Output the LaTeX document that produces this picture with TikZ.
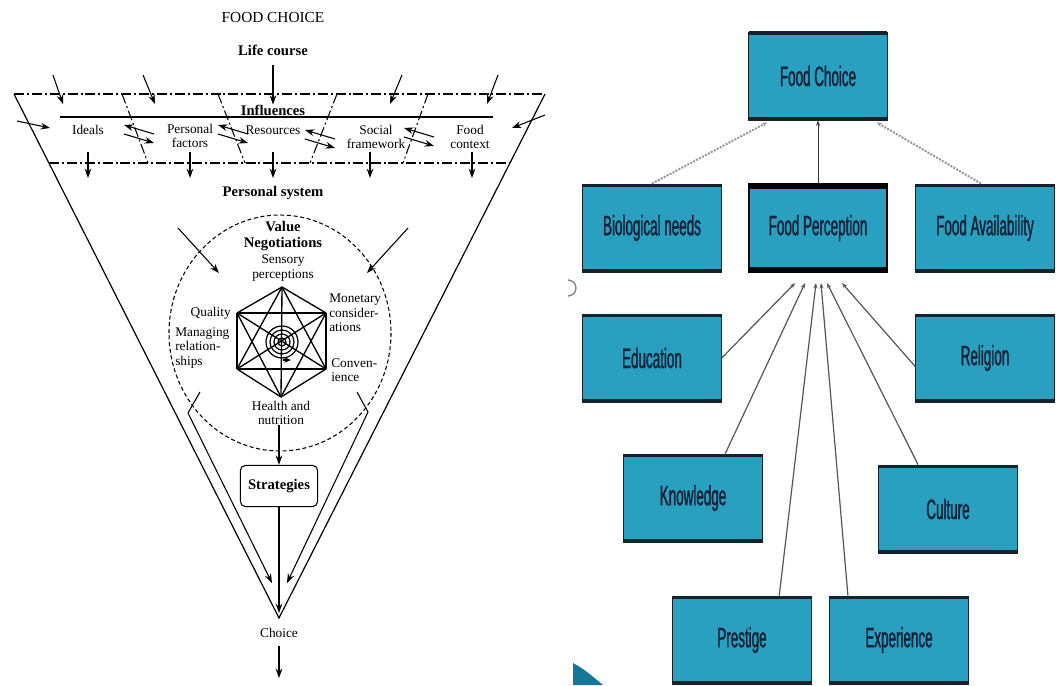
\documentclass[tikz,border=0pt]{standalone}
\usepackage{fontspec}
\setmainfont{Liberation Serif}
\newfontfamily\slidefont[FakeStretch=0.48, FakeBold=1.2]{Liberation Sans}
\usetikzlibrary{arrows.meta, calc, positioning}
\definecolor{slideteal}{RGB}{42,160,192}
\definecolor{boxedge}{RGB}{22,34,44}
\definecolor{slidetext}{RGB}{20,34,56}
\definecolor{linkgray}{RGB}{85,85,85}
\definecolor{dotgray}{RGB}{150,150,150}
\definecolor{wedgeteal}{RGB}{20,120,150}

\tikzset{
  dashdot/.style={line width=0.8pt, dash pattern=on 7.5pt off 2.2pt on 1.5pt off 2.2pt},
  into/.style={-{Stealth[length=7pt,width=5pt]}, line width=0.8pt},
  factortext/.style={font=\fontsize{10}{10.8}\selectfont, align=center, inner sep=0pt},
  heading/.style={font=\fontsize{11}{12}\selectfont\bfseries, align=center, inner sep=0pt},
  titletext/.style={font=\fontsize{11.5}{13}\selectfont, inner sep=0pt},
  slidebox/.style={rectangle, fill=slideteal, draw=boxedge, line width=0.6pt,
    minimum width=104pt, minimum height=66pt, inner sep=0pt,
    font=\slidefont\fontsize{21}{24}\selectfont, text=slidetext,
    path picture={\draw[boxedge, line width=5pt]
      (path picture bounding box.north west) -- (path picture bounding box.north east)
      (path picture bounding box.south west) -- (path picture bounding box.south east);}},
  keybox/.style={slidebox, draw=black, line width=1.6pt,
    path picture={\draw[black, line width=8pt]
      (path picture bounding box.north west) -- (path picture bounding box.north east)
      (path picture bounding box.south west) -- (path picture bounding box.south east);}},
  feed/.style={-{Stealth[length=4pt,width=3pt]}, linkgray, line width=0.9pt},
  ration/.style={-{Stealth[length=4pt,width=3pt]}, dotgray, line width=1.5pt, dash pattern=on 1.5pt off 1pt},
}

\begin{document}
\begin{tikzpicture}[x=0.75pt, y=-0.75pt]
  \fill[white] (0,0) rectangle (1056,685);
  \useasboundingbox (0,0) rectangle (1056,685);

  % Funnel
  \draw[line width=0.9pt] (14,94) -- (279,618) -- (545,94);
  \draw[dashdot] (14,94) -- (545,94);
  \draw[dashdot] (49,163) -- (510,163);
  \draw[line width=0.9pt] (60,117) -- (493,117);
  \draw[dashdot] (122,94) -- (148,163);
  \draw[dashdot] (218,94) -- (245,163);
  \draw[dashdot] (337,94) -- (310,163);
  \draw[dashdot] (428,94) -- (403,163);

  % Influences
  \node[titletext] (title) at (273,17) {FOOD CHOICE};
  \node[heading] (life) at (273,50) {Life course};
  \node[heading] (infl) at (273,110) {Influences};
  \node[factortext] (ideals) at (88,130) {Ideals};
  \node[factortext] (pers) at (190,136) {Personal\\factors};
  \node[factortext] (res) at (273,130) {Resources};
  \node[factortext] (social) at (376,137) {Social\\framework};
  \node[factortext] (context) at (470,137) {Food\\context};
  \node[heading] (psys) at (273,193) {Personal system};

  \draw[into, shorten <=7pt] (life) -- (infl);
  \foreach \a/\b in {53/63, 143/155, 402/390, 498/487}
    \draw[into] (\a,75) -- (\b,104);
  \draw[into] (17,121) -- (50,128);
  \draw[into] (545,115) -- (512,128);
  \foreach \x in {88,190,273,370,472}
    \draw[into] (\x,152) -- (\x,178);
  \foreach \cx/\cy in {139/135, 233/135, 320/140, 419/138} {
    \draw[into] (\cx+15,\cy-1) -- (\cx-15,\cy-10);
    \draw[into] (\cx-15,\cy-1) -- (\cx+15,\cy+8);
  }

  % Value negotiations
  \draw[line width=0.8pt, dash pattern=on 3pt off 2pt] (280,333) ellipse [x radius=111, y radius=118];
  \node[heading] (value) at (283,236) {Value\\Negotiations};
  \node[factortext] (sensory) at (283,268) {Sensory\\perceptions};
  \node[factortext, anchor=east] (quality) at (231,313) {Quality};
  \node[factortext, anchor=west, align=left] (managing) at (175,348) {Managing\\relation-\\ships};
  \node[factortext, anchor=west, align=left] (monetary) at (329,313) {Monetary\\consider-\\ations};
  \node[factortext, anchor=west, align=left] (conven) at (331,370) {Conven-\\ience};
  \node[factortext] (health) at (281,413) {Health and\\nutrition};

  \coordinate (vT) at (282,287);
  \coordinate (vUR) at (326,313);
  \coordinate (vLR) at (326,369);
  \coordinate (vB) at (281,397);
  \coordinate (vLL) at (237,369);
  \coordinate (vUL) at (237,313);
  \foreach \p [count=\i] in {vT,vUR,vLR,vB,vLL,vUL} {
    \foreach \q [count=\j] in {vT,vUR,vLR,vB,vLL,vUL} {
      \ifnum\i<\j \draw[line width=1pt] (\p) -- (\q); \fi
    }
  }
  \foreach \r in {4,8,12,16}
    \draw[line width=0.9pt] (282,342) circle[radius=\r];
  \draw[-{Stealth[length=5pt,width=4pt]}, line width=0.8pt] (283,360) -- (291,360);

  \draw[into] (178,228) -- (219,273);
  \draw[into] (408,228) -- (367,273);
  \draw[into] (200,392) -- (188,413) -- (272,583);
  \draw[into] (357,392) -- (368,412) -- (287,583);

  % Strategies and choice
  \node[heading, draw, line width=0.8pt, rounded corners=4pt, minimum width=58pt, minimum height=31pt] (strat) at (279,486) {Strategies};
  \coordinate (apex) at (279,613);
  \node[factortext] (choice) at (279,633) {Choice};
  \coordinate (out) at (279,678);
  \draw[into] (health.south -| strat.north) -- (strat.north);
  \draw[into, line width=1.3pt] (strat) -- (apex);
  \draw[into, shorten <=6pt] (choice) -- (out);

  % Slide
  \node[slidebox] (fc) at (818,76) {Food Choice};
  \node[slidebox] (bio) at (652,228) {Biological needs};
  \node[keybox] (perc) at (818,228) {Food Perception};
  \node[slidebox] (avail) at (985,228) {Food Availability};
  \node[slidebox] (edu) at (652,358) {Education};
  \node[slidebox] (rel) at (985,358) {Religion};
  \node[slidebox] (know) at (693,498) {Knowledge};
  \node[slidebox] (cult) at (948,509) {Culture};
  \node[slidebox] (prest) at (742,640) {Prestige};
  \node[slidebox] (exper) at (899,640) {Experience};

  \draw[feed, linkgray!60!black, line width=0.7pt] (perc.north) -- (fc.south);
  \draw[ration] (bio.north) -- ($(fc.south west)+(19,2)$);
  \draw[ration] ($(avail.north)+(-4,0)$) -- ($(fc.south east)+(-11,2)$);
  \draw[feed] (edu.east) -- ($(perc.south)+(-23,10)$);
  \draw[feed] (know.54) -- ($(perc.south)+(-13,10)$);
  \draw[feed] (prest.50) -- ($(perc.south)+(-2,10)$);
  \draw[feed] (exper.139) -- ($(perc.south)+(3,10)$);
  \draw[feed] (cult.124) -- ($(perc.south)+(9,10)$);
  \draw[feed] (rel.187) -- ($(perc.south)+(24,10)$);

  % Slide edge remnants
  \draw[gray, line width=1pt] (568,280) arc[start angle=-90, end angle=90, radius=8];
  \fill[wedgeteal] (573,663) .. controls (585,670) .. (603,685) -- (573,685) -- cycle;
\end{tikzpicture}
\end{document}
